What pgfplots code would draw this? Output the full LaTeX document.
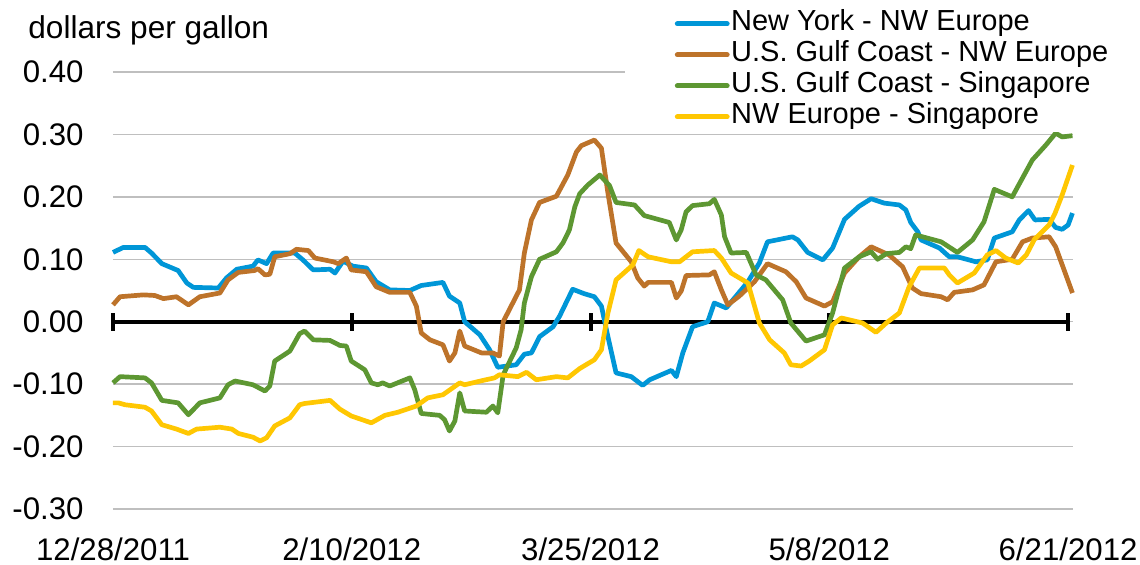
\documentclass[border=0pt]{standalone}
\usepackage{fontspec}
\setmainfont{Liberation Sans}
\usepackage{pgfplots}
\pgfplotsset{compat=1.18}
\definecolor{cBlue}{HTML}{0096D7}
\definecolor{cBrown}{HTML}{BD732A}
\definecolor{cGreen}{HTML}{5D9732}
\definecolor{cYellow}{HTML}{FFC702}
\definecolor{cGrid}{HTML}{BFBFBF}
\begin{document}
\begin{tikzpicture}
\path[use as bounding box] (-56.5pt,-28pt) rectangle (513.5pt,254.5pt);
\begin{axis}[
  name=ax, at={(0pt,0pt)}, anchor=south west,
  scale only axis, width=480pt, height=218.5pt,
  xmin=0, xmax=176.9, ymin=-0.3, ymax=0.4,
  axis line style={draw=none},
  xtick={0,44,88,132,176},
  xticklabels={12/28/2011,2/10/2012,3/25/2012,5/8/2012,6/21/2012},
  ytick={-0.3,-0.2,-0.1,0,0.1,0.2,0.3,0.4},
  yticklabels={-0.30,-0.20,-0.10,0.00,0.10,0.20,0.30,0.40},
  major tick length=0pt,
  ymajorgrids, grid style={cGrid, line width=0.75pt},
  tick label style={font=\fontsize{15.6}{18}\selectfont},
  yticklabel style={anchor=east, inner sep=0pt, xshift=-14.5pt},
  xticklabel style={anchor=north, inner sep=0pt, yshift=-14pt},
  clip=false,
  legend style={at={(axis description cs:0.5333,1.1465)}, anchor=north west,
    draw=none, fill=white, inner xsep=24.75pt, inner ysep=0pt,
    font=\fontsize{14.5}{15.5}\selectfont, row sep=0pt, column sep=0.75pt,
    nodes={inner sep=0pt, text height=11pt, text depth=4.5pt}},
  legend cell align=left,
  legend image code/.code={\draw[#1, line width=2.4pt, line cap=round] (0pt,0pt) -- (25pt,0pt);},
  every axis plot/.append style={line width=2.35pt, line join=round},
]
\draw[black, line width=2pt] (axis cs:0,0) -- (axis cs:176,0);
\draw[black, line width=2pt] (axis cs:0,-0.0145) -- (axis cs:0,0.0145);
\draw[black, line width=2pt] (axis cs:44,-0.0145) -- (axis cs:44,0.0145);
\draw[black, line width=2pt] (axis cs:88,-0.0145) -- (axis cs:88,0.0145);
\draw[black, line width=2pt] (axis cs:132,-0.0145) -- (axis cs:132,0.0145);
\draw[black, line width=2pt] (axis cs:176,-0.0145) -- (axis cs:176,0.0145);

\addplot[cBlue] coordinates {(0,0.111)(1.9,0.119)(5.9,0.119)(7.1,0.110)(9.0,0.093)(12.0,0.082)(13.6,0.062)(14.8,0.055)(19.4,0.054)(20.9,0.070)(22.8,0.084)(25.8,0.089)(26.7,0.099)(28.3,0.093)(29.5,0.110)(33.5,0.110)(35.0,0.099)(36.9,0.083)(40.0,0.084)(40.9,0.078)(42.4,0.097)(44.2,0.089)(46.7,0.086)(48.5,0.064)(51.0,0.051)(54.7,0.050)(56.8,0.058)(60.8,0.063)(62.0,0.041)(63.9,0.030)(64.8,0.000)(67.6,-0.021)(69.4,-0.045)(70.9,-0.073)(74.3,-0.069)(75.8,-0.052)(77.1,-0.050)(78.6,-0.024)(81.1,-0.008)(82.3,0.009)(84.7,0.052)(86.8,0.045)(88.7,0.040)(90.0,0.025)(91.2,-0.024)(92.7,-0.082)(95.5,-0.088)(97.6,-0.102)(98.9,-0.093)(102.9,-0.078)(103.8,-0.088)(105.0,-0.050)(106.8,-0.008)(109.6,0.000)(110.8,0.030)(113.0,0.022)(117.0,0.064)(119.1,0.094)(120.6,0.128)(125.2,0.136)(126.2,0.131)(128.0,0.111)(130.8,0.099)(132.6,0.118)(134.8,0.164)(137.5,0.185)(139.7,0.197)(142.1,0.190)(144.9,0.187)(146.1,0.179)(147.0,0.159)(148.3,0.144)(148.9,0.131)(152.3,0.118)(154.1,0.104)(155.6,0.104)(159.0,0.096)(161.1,0.099)(162.4,0.134)(165.7,0.144)(167.0,0.163)(168.7,0.178)(169.9,0.163)(172.5,0.164)(173.7,0.151)(174.9,0.148)(176.0,0.155)(176.8,0.174)};
\addlegendentry{New York - NW Europe}

\addplot[cBrown] coordinates {(0,0.027)(1.3,0.040)(5.6,0.043)(7.7,0.042)(9.3,0.037)(11.7,0.040)(13.9,0.027)(16.0,0.040)(19.7,0.046)(21.2,0.067)(23.1,0.079)(26.1,0.082)(26.7,0.085)(28.0,0.075)(28.9,0.076)(29.8,0.104)(32.6,0.109)(33.8,0.116)(36.0,0.114)(37.2,0.102)(40.6,0.096)(41.5,0.093)(43.0,0.102)(43.9,0.083)(46.7,0.080)(48.5,0.056)(51.0,0.047)(54.7,0.047)(55.9,0.025)(56.8,-0.018)(58.4,-0.029)(60.8,-0.037)(62.0,-0.063)(63.0,-0.050)(63.9,-0.015)(64.8,-0.039)(67.9,-0.050)(70.0,-0.050)(71.2,-0.055)(71.9,0.000)(74.9,0.051)(75.8,0.110)(77.1,0.163)(78.6,0.191)(81.7,0.201)(83.8,0.235)(85.4,0.272)(86.3,0.282)(88.7,0.291)(90.0,0.278)(91.2,0.206)(92.7,0.126)(95.5,0.096)(96.7,0.070)(97.9,0.057)(98.6,0.063)(102.9,0.063)(103.8,0.038)(104.7,0.049)(105.6,0.074)(109.9,0.075)(110.8,0.080)(112.1,0.051)(113.3,0.027)(115.4,0.041)(118.2,0.064)(120.6,0.093)(124.0,0.080)(125.9,0.064)(127.7,0.038)(131.1,0.025)(132.6,0.032)(134.8,0.078)(137.5,0.104)(139.7,0.120)(143.0,0.107)(145.5,0.088)(147.3,0.054)(148.9,0.045)(152.6,0.040)(153.8,0.035)(155.0,0.047)(158.4,0.051)(160.5,0.059)(162.7,0.096)(165.7,0.100)(167.6,0.128)(169.4,0.134)(172.5,0.136)(173.7,0.120)(176.8,0.046)};
\addlegendentry{U.S. Gulf Coast - NW Europe}

\addplot[cGreen] coordinates {(0,-0.098)(1.3,-0.088)(5.9,-0.090)(7.1,-0.098)(9.0,-0.126)(12.0,-0.130)(13.9,-0.149)(16.0,-0.130)(19.7,-0.122)(21.2,-0.101)(22.5,-0.095)(25.8,-0.101)(28.0,-0.111)(28.9,-0.103)(29.8,-0.063)(32.6,-0.047)(34.4,-0.019)(35.3,-0.015)(36.9,-0.029)(40.0,-0.030)(41.8,-0.038)(43.0,-0.039)(43.9,-0.063)(46.4,-0.077)(47.6,-0.098)(48.8,-0.101)(49.7,-0.098)(51.0,-0.103)(54.7,-0.090)(55.6,-0.109)(56.8,-0.147)(60.2,-0.150)(61.1,-0.157)(62.0,-0.175)(63.0,-0.159)(63.9,-0.114)(64.8,-0.143)(68.8,-0.145)(70.0,-0.135)(70.9,-0.146)(71.9,-0.085)(74.3,-0.042)(75.2,-0.013)(75.8,0.030)(77.1,0.072)(78.6,0.100)(81.7,0.112)(82.9,0.126)(84.1,0.147)(85.1,0.184)(86.0,0.205)(87.5,0.219)(89.7,0.235)(91.5,0.218)(92.7,0.191)(96.1,0.187)(97.9,0.170)(102.5,0.159)(103.8,0.131)(104.7,0.147)(105.6,0.176)(106.8,0.186)(109.9,0.189)(110.8,0.196)(112.1,0.171)(112.7,0.136)(113.9,0.110)(116.7,0.111)(118.5,0.075)(120.3,0.067)(123.4,0.035)(124.9,-0.002)(127.7,-0.031)(131.1,-0.021)(132.6,0.014)(134.8,0.086)(137.5,0.104)(139.7,0.112)(140.9,0.100)(142.5,0.109)(144.9,0.111)(146.1,0.120)(147.0,0.117)(147.9,0.139)(152.6,0.128)(155.6,0.111)(158.4,0.131)(160.5,0.160)(162.4,0.212)(165.7,0.200)(169.4,0.259)(171.9,0.283)(173.7,0.302)(174.9,0.296)(176.8,0.298)};
\addlegendentry{U.S. Gulf Coast - Singapore}

\addplot[cYellow] coordinates {(0,-0.130)(1.0,-0.130)(2.2,-0.133)(5.9,-0.137)(7.1,-0.143)(9.0,-0.165)(11.7,-0.172)(13.9,-0.179)(15.4,-0.172)(19.7,-0.169)(21.9,-0.172)(23.1,-0.179)(25.8,-0.185)(27.1,-0.191)(28.3,-0.186)(29.8,-0.167)(32.6,-0.154)(34.4,-0.133)(35.3,-0.131)(40.0,-0.126)(41.8,-0.140)(43.9,-0.151)(47.6,-0.162)(50.1,-0.150)(52.5,-0.145)(55.9,-0.135)(58.0,-0.122)(60.8,-0.117)(63.9,-0.098)(64.8,-0.101)(68.2,-0.094)(70.3,-0.090)(71.2,-0.085)(74.6,-0.088)(76.2,-0.081)(78.0,-0.093)(81.7,-0.088)(83.8,-0.090)(86.0,-0.075)(88.7,-0.061)(90.0,-0.045)(91.2,0.014)(92.7,0.067)(95.8,0.091)(96.9,0.114)(98.6,0.104)(102.9,0.096)(104.4,0.096)(106.8,0.112)(110.8,0.114)(112.1,0.102)(113.9,0.078)(117.0,0.062)(119.1,-0.002)(121.0,-0.029)(123.7,-0.050)(124.9,-0.069)(126.8,-0.071)(128.3,-0.063)(131.1,-0.045)(132.6,-0.005)(134.2,0.006)(138.1,-0.002)(140.6,-0.017)(142.5,-0.002)(144.9,0.014)(146.7,0.056)(148.6,0.086)(153.2,0.086)(154.1,0.075)(155.6,0.062)(158.7,0.078)(161.1,0.107)(162.7,0.114)(164.5,0.102)(166.8,0.094)(168.3,0.107)(169.8,0.132)(172.5,0.155)(173.6,0.174)(174.9,0.203)(176.8,0.251)};
\addlegendentry{NW Europe - Singapore}
\end{axis}
\node[anchor=base west, font=\fontsize{15.8}{18}\selectfont, inner sep=0pt] at ([xshift=-42.5pt, yshift=16.5pt]ax.north west) {dollars per gallon};
\end{tikzpicture}
\end{document}
